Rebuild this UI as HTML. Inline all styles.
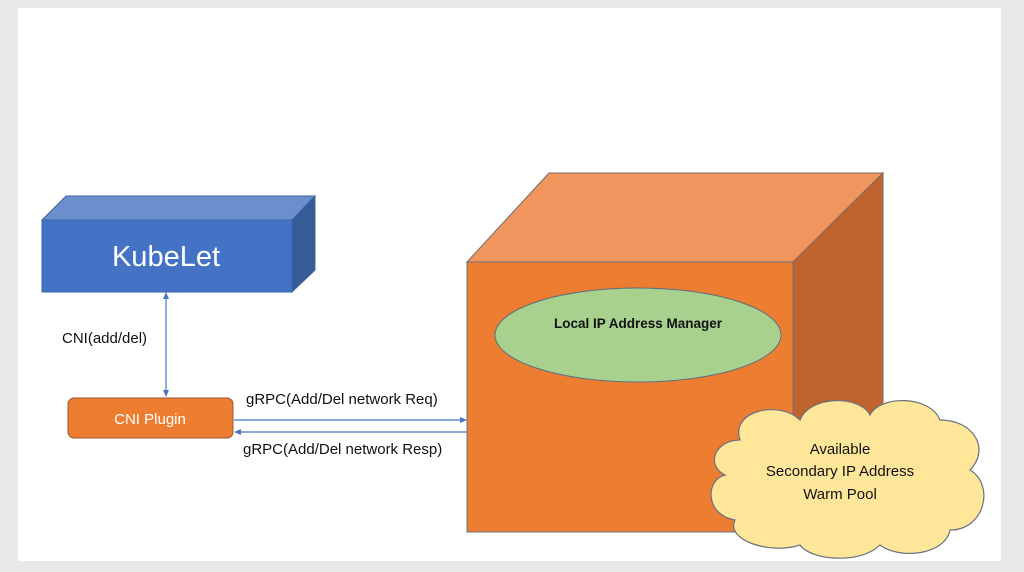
<!DOCTYPE html>
<html><head><meta charset="utf-8"><style>
body{margin:0;width:1024px;height:572px;background:#e9e9e9;overflow:hidden}
svg{display:block}
text{font-family:"Liberation Sans",sans-serif}
</style></head><body>
<svg width="1024" height="572" viewBox="0 0 1024 572">
<rect x="18" y="8" width="983" height="553" fill="#fff"/>
<!-- KubeLet box -->
<polygon points="42,220 66,196 315,196 292,220" fill="#6a8fcc" stroke="#3f62a5"/>
<polygon points="292,220 315,196 315,270 292,292" fill="#365c98" stroke="#3f62a5"/>
<rect x="42" y="220" width="250" height="72" fill="#4472c4" stroke="#3a64ad"/>
<text x="166" y="266" font-size="29" fill="#fff" text-anchor="middle">KubeLet</text>
<!-- vertical arrow -->
<line x1="166" y1="297" x2="166" y2="393" stroke="#4a74c0" stroke-width="1.2"/>
<polygon points="166,292 163,299 169,299" fill="#4a74c0"/>
<polygon points="166,397 163,390 169,390" fill="#4a74c0"/>
<text x="62" y="343" font-size="15" fill="#111">CNI(add/del)</text>
<!-- CNI plugin -->
<rect x="68" y="398" width="165" height="40" rx="6" fill="#ed7d31" stroke="#9a5a30"/>
<text x="150" y="424" font-size="15" fill="#fff" text-anchor="middle">CNI Plugin</text>
<!-- gRPC arrows -->
<line x1="234" y1="420" x2="462" y2="420" stroke="#4a74c0" stroke-width="1.2"/>
<polygon points="467,420 460,417 460,423" fill="#4a74c0"/>
<line x1="240" y1="432" x2="467" y2="432" stroke="#4a74c0" stroke-width="1.2"/>
<polygon points="234,432 241,429 241,435" fill="#4a74c0"/>
<text x="246" y="404" font-size="15" fill="#111">gRPC(Add/Del network Req)</text>
<text x="243" y="454" font-size="15" fill="#111">gRPC(Add/Del network Resp)</text>
<!-- cube -->
<polygon points="467,262 549,173 883,173 793,262" fill="#f0955e" stroke="#7a6a66"/>
<polygon points="793,262 883,173 883,445 793,532" fill="#c0632f" stroke="#7a6a66"/>
<rect x="467" y="262" width="326" height="270" fill="#ed7d31" stroke="#6f6f80"/>
<ellipse cx="638" cy="335" rx="143" ry="47" fill="#a9d18e" stroke="#5a6e80"/>
<text x="638" y="328" font-size="13.5" font-weight="bold" fill="#111" text-anchor="middle" dy="0">Local IP Address Manager</text>
<!-- cloud -->
<g fill="#ffe699" stroke="#6a7080" stroke-width="1.2">
<path d="M740,440 C730,410 780,400 800,420 C810,395 860,395 870,415 C880,395 930,395 940,420 C975,420 990,450 970,470 C995,485 985,530 950,530 C945,555 900,560 880,545 C860,565 810,560 800,545 C770,555 725,540 735,520 C705,515 705,480 725,475 C705,465 715,440 740,440 Z"/>
</g>
<text x="840" y="454" font-size="15" fill="#111" text-anchor="middle">Available</text>
<text x="840" y="476" font-size="15" fill="#111" text-anchor="middle">Secondary IP Address</text>
<text x="840" y="499" font-size="15" fill="#111" text-anchor="middle">Warm Pool</text>
</svg>
</body></html>
